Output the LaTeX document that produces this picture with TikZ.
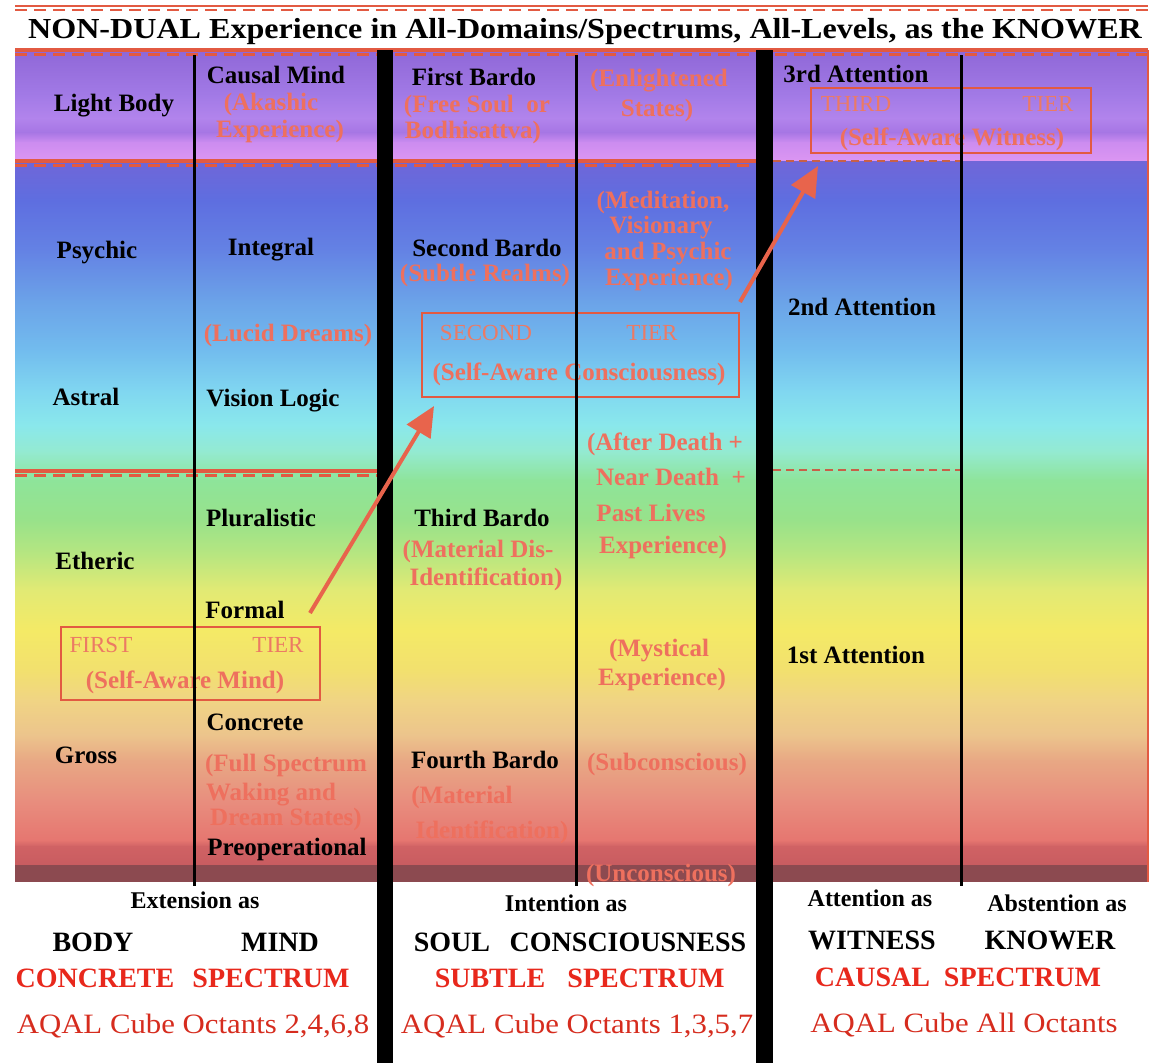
\documentclass[tikz,border=0pt]{standalone}
\usepackage{fontspec}
\setmainfont{Liberation Serif}
\usetikzlibrary{arrows.meta}
\definecolor{redc}{RGB}{226,90,66}
\definecolor{arrc}{RGB}{232,100,76}
\definecolor{dashc}{RGB}{200,96,72}
\definecolor{salm}{RGB}{238,112,94}
\definecolor{tierc}{RGB}{236,122,100}
\definecolor{brred}{RGB}{232,40,28}
\definecolor{aqred}{RGB}{214,44,30}
\definecolor{b0}{HTML}{9068D8}
\definecolor{b1}{HTML}{A27AE6}
\definecolor{b2}{HTML}{B284EC}
\definecolor{b3}{HTML}{A676E4}
\definecolor{b4}{HTML}{CC8CF0}
\definecolor{b5}{HTML}{DC96F2}
\definecolor{u0}{HTML}{7066D8}
\definecolor{u1}{HTML}{5E6EE0}
\definecolor{u2}{HTML}{6482E4}
\definecolor{u3}{HTML}{6BA2E8}
\definecolor{u4}{HTML}{72BCEE}
\definecolor{u5}{HTML}{80D6F0}
\definecolor{u6}{HTML}{8AE8EC}
\definecolor{u7}{HTML}{94EAD0}
\definecolor{u8}{HTML}{8EE49A}
\definecolor{u9}{HTML}{98E28A}
\definecolor{u10}{HTML}{B8E680}
\definecolor{u11}{HTML}{E2EA74}
\definecolor{u12}{HTML}{F4EA66}
\definecolor{u13}{HTML}{F2E06E}
\definecolor{u14}{HTML}{F0D484}
\definecolor{u15}{HTML}{ECC48C}
\definecolor{u16}{HTML}{E8A884}
\definecolor{u17}{HTML}{E88E7E}
\definecolor{u18}{HTML}{E67670}
\definecolor{u19}{HTML}{D06264}
\definecolor{u20}{HTML}{C85C60}
\definecolor{u21}{HTML}{8C4A50}
\definecolor{u22}{HTML}{884A4E}
\newcommand{\myfs}[1]{\fontsize{#1}{#1}\selectfont}
\begin{document}
\begin{tikzpicture}[x=1pt,y=-1pt,
  lbl/.style={font=\myfs{25}\bfseries, inner sep=0pt, text height=16.5pt, text depth=0pt, text=black},
  sal/.style={font=\myfs{25}\bfseries, inner sep=0pt, text height=16.5pt, text depth=0pt, text=salm},
  tier/.style={font=\myfs{23}, inner sep=0pt, text height=15pt, text depth=0pt, text=tierc},
  tbox/.style={draw=redc, line width=2.5pt, inner sep=0pt},
  bot/.style={font=\myfs{24}\bfseries, inner sep=0pt, text height=16pt, text depth=0pt, text=black},
  capb/.style={font=\myfs{28}\bfseries, inner sep=0pt, text height=18.5pt, text depth=0pt, text=black},
  capr/.style={font=\myfs{28}\bfseries, inner sep=0pt, text height=18.5pt, text depth=0pt, text=brred},
  aq/.style={font=\myfs{28}, inner sep=0pt, text height=18.5pt, text depth=0pt, text=aqred},
  thinv/.style={line width=3pt, black},
  redsolid/.style={redc, line width=4pt},
  reddash/.style={redc, line width=3pt, dash pattern=on 12pt off 7pt},
  thindash/.style={dashc, line width=2pt, dash pattern=on 8pt off 5pt},
  arr/.style={draw=arrc, line width=4pt, -{Triangle[length=30pt,width=27pt]}}
]
\useasboundingbox (0,0) rectangle (1151,1063);
\fill[white] (0,0) rectangle (1151,1063);

% colour bands
\foreach \ya/\yb/\ca/\cb in {52/95/b0/b1, 95/118/b1/b2, 118/132/b2/b3, 132/142/b3/b4, 142/161/b4/b5}
  \shade[top color=\ca, bottom color=\cb] (15,\ya) rectangle (1148,\yb+0.6);
\foreach \ya/\yb/\ca/\cb in {161/200/u0/u1, 200/250/u1/u2, 250/300/u2/u3, 300/350/u3/u4, 350/390/u4/u5, 390/425/u5/u6, 425/452/u6/u7, 452/480/u7/u8, 480/520/u8/u9, 520/555/u9/u10, 555/590/u10/u11, 590/630/u11/u12, 630/670/u12/u13, 670/700/u13/u14, 700/735/u14/u15, 735/760/u15/u16, 760/800/u16/u17, 800/840/u17/u18, 840/846/u18/u19, 846/865/u19/u20}
  \shade[top color=\ca, bottom color=\cb] (15,\ya) rectangle (1148,\yb+0.6);
\fill[u21] (15,865) rectangle (1148,882);
\draw[redc, line width=1.5pt] (1148,50) -- (1148,882);

% red boundary lines
\draw[redc, line width=2.5pt] (15,6) -- (1148,6);
\draw[redc, line width=2.5pt, dash pattern=on 12pt off 7pt] (15,10) -- (1148,10);
\draw[redsolid] (15,50) -- (1148,50);
\draw[reddash] (15,54) -- (1148,54);
\draw[redsolid] (15,161) -- (757,161);
\draw[reddash] (15,165) -- (757,165);
\draw[redsolid] (15,471) -- (377,471);
\draw[reddash] (15,475) -- (377,475);
\draw[thindash] (773,161) -- (960,161);
\draw[thindash] (773,470) -- (960,470);

% title
\node[inner sep=0pt, text height=19pt, text depth=0pt] (title) at (585,29)
  {\scalebox{1.107}[1]{\myfs{29}\bfseries NON-DUAL Experience in All-Domains/Spectrums, All-Levels, as the KNOWER}};

% tier boxes
\node[tbox, minimum width=259pt, minimum height=73pt] (tier1) at (190.5,663.5) {};
\node[tbox, minimum width=317pt, minimum height=84pt] (tier2) at (580.5,355) {};
\node[tbox, minimum width=280pt, minimum height=65pt] (tier3) at (951,120.5) {};
\node[tier] (first) at (101,645) {FIRST};
\node[tier] (tierA) at (278,645) {TIER};
\node[sal] (samind) at (185,680) {(Self-Aware Mind)};
\node[tier] (second) at (486,333) {SECOND};
\node[tier] (tierB) at (652,333) {TIER};
\node[sal] (sacons) at (579,372) {(Self-Aware Consciousness)};
\node[tier] (third) at (856,104) {THIRD};
\node[tier] (tierC) at (1048,104) {TIER};
\node[sal] (sawit) at (952,137) {(Self-Aware Witness)};

% body column
\node[lbl] (lightbody) at (114,103) {Light Body};
\node[lbl] (psychic) at (97,250) {Psychic};
\node[lbl] (astral) at (86,397) {Astral};
\node[lbl] (etheric) at (95,561) {Etheric};
\node[lbl] (gross) at (86,755) {Gross};

% mind column
\node[lbl] (causal) at (276,75) {Causal Mind};
\node[sal] (akashic) at (271,102) {(Akashic};
\node[sal] (expA) at (280,129) {Experience)};
\node[lbl] (integral) at (271,247) {Integral};
\node[sal] (lucid) at (288,333) {(Lucid Dreams)};
\node[lbl] (visionlogic) at (273,398) {Vision Logic};
\node[lbl] (plural) at (261,518) {Pluralistic};
\node[lbl] (formal) at (245,610) {Formal};
\node[lbl] (concrete) at (255,722) {Concrete};
\node[sal] (fullspec) at (286,763) {(Full Spectrum};
\node[sal] (waking) at (271,792) {Waking and};
\node[sal] (dream) at (286,817) {Dream States)};
\node[lbl] (preop) at (287,847) {Preoperational};

% soul column
\node[lbl] (firstb) at (474,77) {First Bardo};
\node[sal] (freesoul) at (477,104) {(Free Soul\ \ or};
\node[sal] (bodhi) at (473,130) {Bodhisattva)};
\node[lbl] (secondb) at (487,248) {Second Bardo};
\node[sal] (subtle) at (485,273) {(Subtle Realms)};
\node[lbl] (thirdb) at (482,518) {Third Bardo};
\node[sal] (matdis) at (478,549) {(Material Dis-};
\node[sal] (identA) at (486,577) {Identification)};
\node[lbl] (fourthb) at (485,760) {Fourth Bardo};
\node[sal] (material) at (462,795) {(Material};
\node[sal] (identB) at (492,830) {Identification)};

% consciousness column
\node[sal] (enl) at (659,78) {(Enlightened};
\node[sal] (states) at (657,108) {States)};
\node[sal] (medit) at (663,200) {(Meditation,};
\node[sal] (visionary) at (661,225) {Visionary};
\node[sal] (andpsy) at (668,251) {and Psychic};
\node[sal] (expB) at (669,277) {Experience)};
\node[sal] (after) at (665,442) {(After Death +};
\node[sal] (near) at (671,477) {Near Death\ \ +};
\node[sal] (past) at (651,513) {Past Lives};
\node[sal] (expC) at (663,545) {Experience)};
\node[sal] (myst) at (659,648) {(Mystical};
\node[sal] (expD) at (662,677) {Experience)};
\node[sal] (subcon) at (667,762) {(Subconscious)};
\node[sal] (uncon) at (661,873) {(Unconscious)};

% witness column
\node[lbl] (att3) at (856,74) {3rd Attention};
\node[lbl] (att2) at (862,307) {2nd Attention};
\node[lbl] (att1) at (856,655) {1st Attention};

% vertical lines
\draw[thinv] (194,55) -- (194,886);
\draw[thinv] (576,55) -- (576,886);
\draw[thinv] (961,55) -- (961,886);
\fill[black] (377,50) rectangle (393,1063);
\fill[black] (756,50) rectangle (773,1063);

% bottom captions
\node[bot] (extas) at (195,900) {Extension as};
\node[capb] (body) at (93,942) {BODY};
\node[capb] (mind) at (280,942) {MIND};
\node[capr] (concr) at (95,978) {CONCRETE};
\node[capr] (specA) at (271,978) {SPECTRUM};
\node[aq] (aqA) at (193,1024) {\scalebox{1.1}[1]{AQAL Cube Octants 2,4,6,8}};
\node[bot] (intas) at (566,903) {Intention as};
\node[capb] (soul) at (452,942) {SOUL};
\node[capb] (consc) at (628,942) {CONSCIOUSNESS};
\node[capr] (subtl) at (490,978) {SUBTLE};
\node[capr] (specB) at (646,978) {SPECTRUM};
\node[aq] (aqB) at (577,1024) {\scalebox{1.1}[1]{AQAL Cube Octants 1,3,5,7}};
\node[bot] (attas) at (870,898) {Attention as};
\node[bot] (absas) at (1057,903) {Abstention as};
\node[capb] (witness) at (872,940) {WITNESS};
\node[capb] (knower) at (1050,940) {KNOWER};
\node[capr] (causalsp) at (958,977) {CAUSAL\ \ SPECTRUM};
\node[aq] (aqC) at (964,1023) {\scalebox{1.1}[1]{AQAL Cube All Octants}};

% arrows
\coordinate (a1s) at (310,613);
\coordinate (a1e) at (434,406);
\draw[arr] (a1s) -- (a1e);
\coordinate (a2s) at (740,302);
\coordinate (a2e) at (818,166);
\draw[arr] (a2s) -- (a2e);
\end{tikzpicture}
\end{document}
